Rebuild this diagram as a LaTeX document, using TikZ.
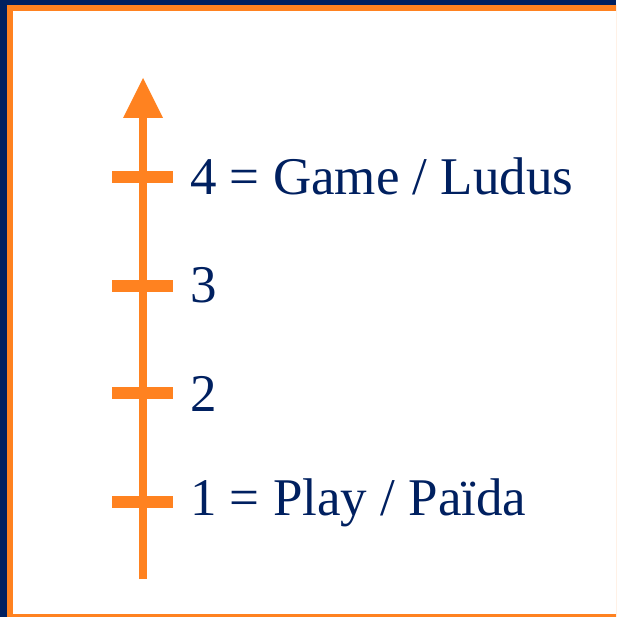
\documentclass[tikz,border=0pt]{standalone}
\usepackage{fontspec}
\setmainfont{Liberation Serif}
\definecolor{navy}{RGB}{0,32,96}
\definecolor{orng}{RGB}{255,130,32}
\tikzset{
  tick/.style={orng, line width=12pt},
  lbl/.style={anchor=base west, inner sep=0pt, text=navy, font=\fontsize{53pt}{60pt}\selectfont},
}
\begin{document}
\begin{tikzpicture}[x=1pt,y=-1pt]
\useasboundingbox (0,0) rectangle (616,617);
\begin{scope}
\clip (0,0) rectangle (616,617);
\fill[navy] (0,0) rectangle (616,617);
\fill[orng] (7,5) rectangle (630,630);
\fill[white] (13,11) rectangle (630,614);
\end{scope}
% axis
\coordinate (bot) at (143,579);
\coordinate (top) at (143,112);
\draw[orng, line width=8pt] (bot) -- (top);
\fill[orng] (123,118) -- (143,78) -- (163,118) -- cycle;
% ticks
\draw[tick] (112,177.5) -- (173,177.5);
\draw[tick] (112,285.5) -- (173,285.5);
\draw[tick] (112,393.3) -- (173,393.3);
\draw[tick] (112,501.7) -- (173,501.7);
% labels
\node[lbl] (l4) at (190,195) {4 = Game / Ludus};
\node[lbl] (l3) at (190,302) {3};
\node[lbl] (l2) at (190,411) {2};
\node[lbl] (l1) at (190,515) {1 = Play / Païda};
\end{tikzpicture}
\end{document}
